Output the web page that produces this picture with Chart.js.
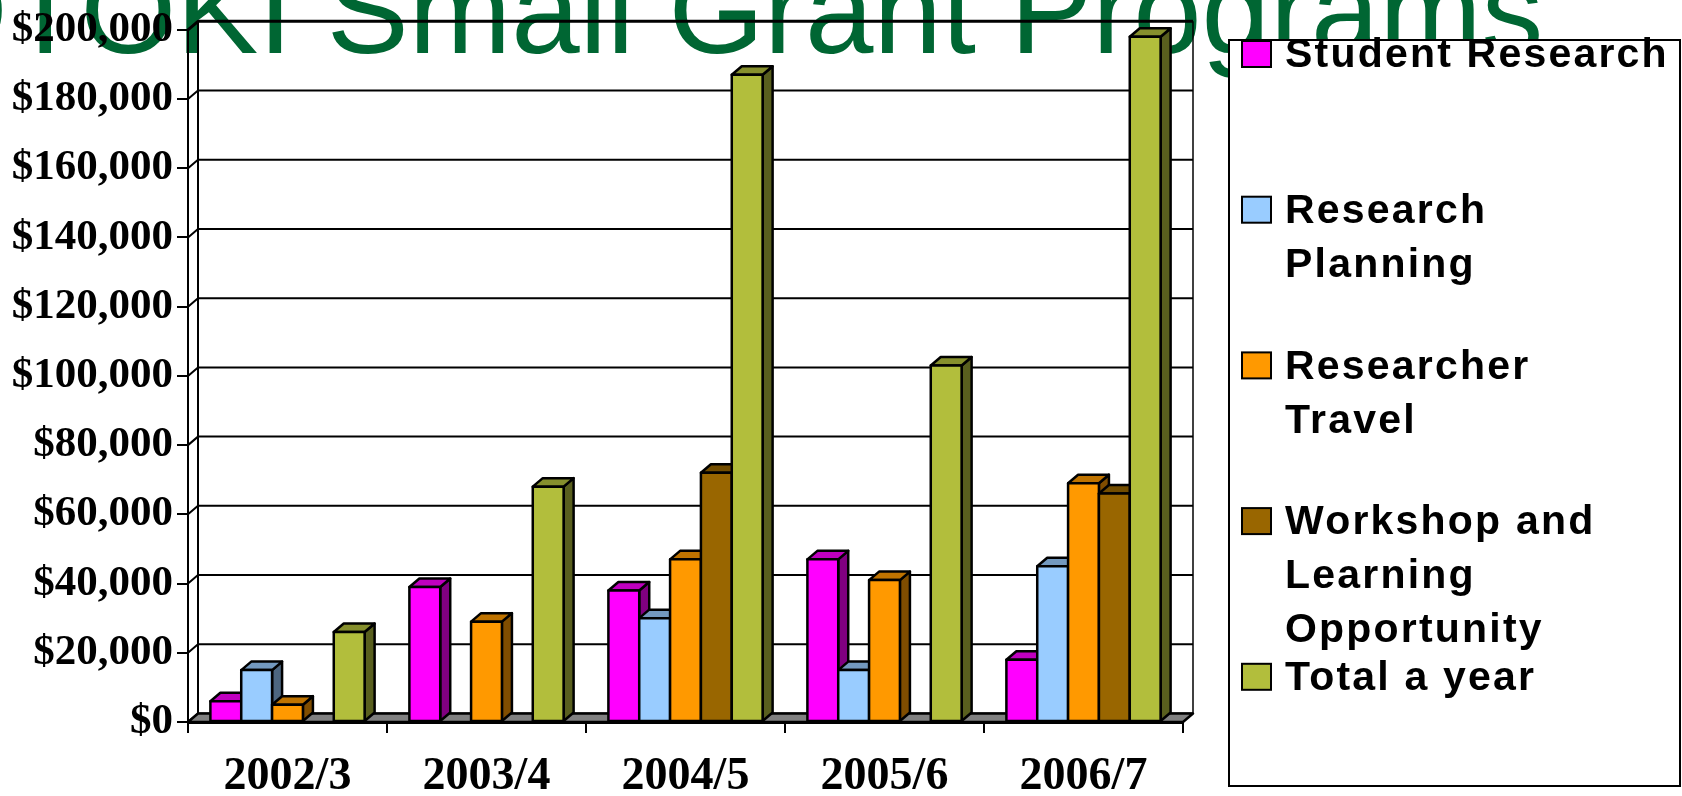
<!DOCTYPE html>
<html>
<head>
<meta charset="utf-8">
<script src="https://cdn.jsdelivr.net/npm/chart.js@4.4.1/dist/chart.umd.min.js"></script>
<style>
  html, body { margin: 0; padding: 0; background: #fff; }
  #wrap { width: 1682px; height: 796px; }
</style>
</head>
<body>
<div id="wrap"><canvas id="chart" width="1682" height="796"></canvas></div>
<script>
const titleText = 'OTOKI Small Grant Programs'
const categories = ['2002/3', '2003/4', '2004/5', '2005/6', '2006/7']
const seriesNames = ['Student Research', 'Research Planning', 'Researcher Travel', 'Workshop and Learning Opportunity', 'Total a year']
const legendLines = [['Student Research'], ['Research', 'Planning'], ['Researcher', 'Travel'], ['Workshop and', 'Learning', 'Opportunity'], ['Total a year']]

const studentResearch = [6000, 39000, 38000, 47000, 18000]
const researchPlanning = [15000, 0, 30000, 15000, 45000]
const researcherTravel = [5000, 29000, 47000, 41000, 69000]
const workshopLearning = [0, 0, 72000, 0, 66000]
const totalYear = [26000, 68000, 187000, 103000, 198000]
const yTicks = [0, 20000, 40000, 60000, 80000, 100000, 120000, 140000, 160000, 180000, 200000]

const colors = ['#FF00FF', '#99CCFF', '#FF9900', '#996600', '#B2BE3C']
const depth = {dx: 10, dy: -8.5}

const shade = (hex, k) => {
  const n = parseInt(hex.slice(1), 16)
  const r = Math.round(((n >> 16) & 255) * k)
  const g = Math.round(((n >> 8) & 255) * k)
  const b = Math.round((n & 255) * k)
  return `rgb(${r},${g},${b})`
}

// big slide title, half cut off at the top, sits behind the plot
const titlePlugin = {
  id: 'slideTitle',
  beforeDraw(chart) {
    const ctx = chart.ctx
    ctx.save()
    ctx.fillStyle = '#006633'
    ctx.font = '123px "Liberation Sans", Arial, sans-serif'
    ctx.textBaseline = 'alphabetic'
    ctx.fillText(titleText, -88, 53)
    ctx.restore()
  }
}

// back wall, left wall, floor and the 3d faces of the bars
const box3dPlugin = {
  id: 'box3d',
  beforeDatasetsDraw(chart) {
    const {ctx, chartArea: a, scales: {y}} = chart
    const {dx, dy} = depth
    ctx.save()
    ctx.strokeStyle = '#000'
    ctx.lineJoin = 'round'

    y.ticks.forEach(t => {
      const py = y.getPixelForValue(t.value)
      ctx.lineWidth = t.value === y.max ? 3 : 2
      ctx.beginPath()
      ctx.moveTo(a.left, py)
      ctx.lineTo(a.left + dx, py + dy)
      ctx.lineTo(a.right + dx, py + dy)
      ctx.stroke()
    })

    ctx.lineWidth = 2
    ctx.beginPath()
    ctx.moveTo(a.left + dx, a.bottom + dy)
    ctx.lineTo(a.left + dx, a.top + dy)
    ctx.stroke()
    ctx.lineWidth = 1.5
    ctx.beginPath()
    ctx.moveTo(a.right + dx, a.bottom + dy)
    ctx.lineTo(a.right + dx, a.top + dy)
    ctx.stroke()

    ctx.lineWidth = 2.5
    ctx.beginPath()
    ctx.moveTo(a.left, a.bottom)
    ctx.lineTo(a.right, a.bottom)
    ctx.lineTo(a.right + dx, a.bottom + dy)
    ctx.lineTo(a.left + dx, a.bottom + dy)
    ctx.closePath()
    ctx.fillStyle = '#808080'
    ctx.fill()
    ctx.stroke()
    ctx.restore()
  },
  afterDatasetsDraw(chart) {
    const ctx = chart.ctx
    const {dx, dy} = depth
    const metas = chart.getSortedVisibleDatasetMetas()
    ctx.save()
    ctx.strokeStyle = '#000'
    ctx.lineWidth = 2.5
    ctx.lineJoin = 'round'
    categories.forEach((_, i) => {
      metas.forEach(meta => {
        const ds = chart.data.datasets[meta.index]
        if (!ds.data[i]) return
        const {x, y, base, width} = meta.data[i].getProps(['x', 'y', 'base', 'width'], true)
        const x0 = x - width / 2
        const x1 = x + width / 2
        const col = colors[meta.index]

        ctx.beginPath()
        ctx.moveTo(x1, y)
        ctx.lineTo(x1 + dx, y + dy)
        ctx.lineTo(x1 + dx, base + dy)
        ctx.lineTo(x1, base)
        ctx.closePath()
        ctx.fillStyle = shade(col, 0.5)
        ctx.fill()
        ctx.stroke()

        ctx.beginPath()
        ctx.moveTo(x0, y)
        ctx.lineTo(x0 + dx, y + dy)
        ctx.lineTo(x1 + dx, y + dy)
        ctx.lineTo(x1, y)
        ctx.closePath()
        ctx.fillStyle = shade(col, 0.75)
        ctx.fill()
        ctx.stroke()

        ctx.fillStyle = col
        ctx.fillRect(x0, y, width, base - y)
        ctx.strokeRect(x0, y, width, base - y)
      })
    })
    ctx.restore()
  }
}

const legendPlugin = {
  id: 'boxLegend',
  afterDraw(chart) {
    const ctx = chart.ctx
    ctx.save()
    ctx.fillStyle = '#fff'
    ctx.strokeStyle = '#000'
    ctx.lineWidth = 2
    ctx.fillRect(1229, 40, 451, 746)
    ctx.strokeRect(1229, 40, 451, 746)
    ctx.font = 'bold 41px "Liberation Sans", Arial, sans-serif'
    ctx.letterSpacing = '2.2px'
    ctx.textBaseline = 'middle'
    legendLines.forEach((lines, i) => {
      const cy = 54 + i * 155.7
      ctx.fillStyle = colors[i]
      ctx.fillRect(1242, cy - 13, 29, 26)
      ctx.lineWidth = 2
      ctx.strokeRect(1242, cy - 13, 29, 26)
      ctx.fillStyle = '#000'
      lines.forEach((ln, k) => ctx.fillText(ln, 1285, cy + 2 + k * 54))
    })
    ctx.restore()
  }
}

const seriesData = [studentResearch, researchPlanning, researcherTravel, workshopLearning, totalYear]
const serifBold = {family: '"Liberation Serif", "Times New Roman", serif', weight: 'bold'}

new Chart(document.getElementById('chart'), {
  type: 'bar',
  data: {
    labels: categories,
    datasets: seriesData.map((d, i) => ({
      label: seriesNames[i],
      data: d,
      backgroundColor: colors[i],
      borderWidth: 0
    }))
  },
  options: {
    responsive: false,
    animation: false,
    events: [],
    categoryPercentage: 0.775,
    barPercentage: 1,
    layout: {padding: {top: 25, right: 499, left: 0, bottom: 0}},
    plugins: {
      legend: {display: false},
      title: {display: false},
      tooltip: {enabled: false}
    },
    scales: {
      x: {
        grid: {drawOnChartArea: false, drawTicks: true, tickLength: 11, color: '#000', lineWidth: 2},
        border: {display: true, color: '#000', width: 3},
        ticks: {color: '#000', font: {...serifBold, size: 46}, padding: 17, maxRotation: 0},
        afterFit(scale) { scale.height = 74 }
      },
      y: {
        min: 0,
        max: 200000,
        afterBuildTicks(scale) { scale.ticks = yTicks.map(v => ({value: v})) },
        grid: {drawOnChartArea: false, drawTicks: true, tickLength: 11, color: '#000', lineWidth: 2},
        border: {display: true, color: '#000', width: 2},
        ticks: {
          color: '#000',
          font: {...serifBold, size: 43},
          padding: 4,
          callback: v => '$' + v.toLocaleString('en-US')
        },
        afterFit(scale) { scale.width = 188 }
      }
    }
  },
  plugins: [titlePlugin, box3dPlugin, legendPlugin]
})
</script>
</body>
</html>
